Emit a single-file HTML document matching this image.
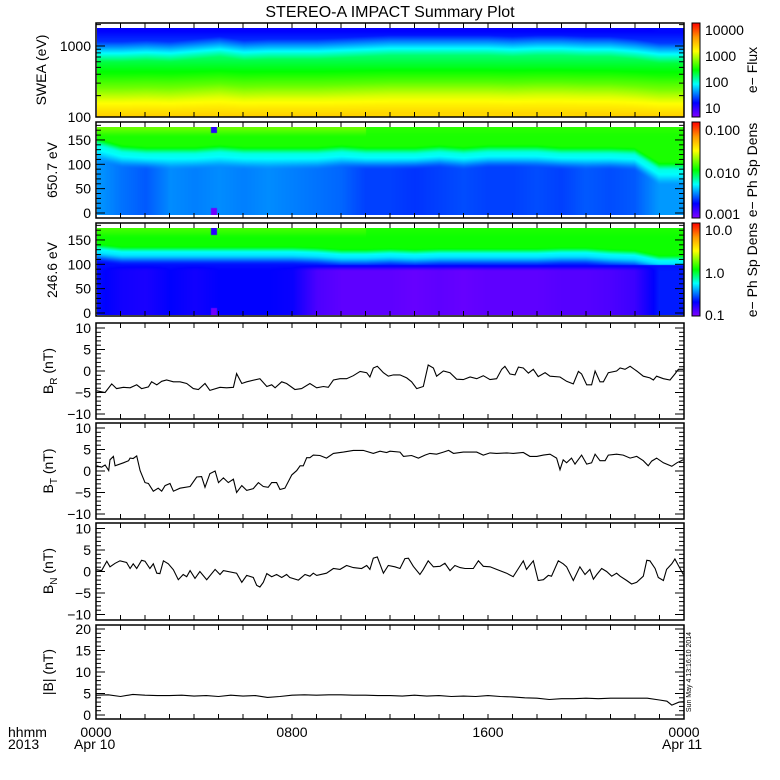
<!DOCTYPE html>
<html><head><meta charset="utf-8"><title>STEREO-A IMPACT Summary Plot</title>
<style>
html,body{margin:0;padding:0;background:#fff;}
#wrap{position:relative;width:780px;height:780px;overflow:hidden;background:#fff;}
canvas{position:absolute;}
svg{position:absolute;left:0;top:0;}
text{font-family:"Liberation Sans",sans-serif;fill:#000;}
</style></head>
<body>
<div id="wrap">
<canvas id="c1"></canvas>
<canvas id="c2"></canvas>
<canvas id="c3"></canvas>
<svg id="svg" width="780" height="780"></svg>
</div>
<script>
// ---- Spectrogram hourly parameters (hours 0..24) ----
const swShift=[0.02,0.02,0.01,0.02,0.0,-0.02,0.01,0.0,0.0,0.0,-0.01,-0.02,-0.03,-0.03,-0.03,-0.03,-0.03,-0.02,-0.03,-0.03,-0.02,-0.02,0.0,0.03,0.03];
const p2Bound=[0.14,0.22,0.24,0.24,0.24,0.22,0.24,0.24,0.24,0.24,0.22,0.24,0.24,0.24,0.22,0.24,0.22,0.22,0.22,0.24,0.24,0.24,0.25,0.42,0.42];
const p2Low=[0.27,0.24,0.22,0.26,0.25,0.26,0.25,0.26,0.25,0.24,0.23,0.2,0.2,0.19,0.2,0.21,0.2,0.2,0.21,0.2,0.22,0.21,0.22,0.27,0.27];
const p3Bound=[0.2,0.23,0.23,0.23,0.23,0.23,0.23,0.23,0.23,0.24,0.26,0.26,0.25,0.26,0.25,0.25,0.25,0.25,0.25,0.24,0.24,0.26,0.27,0.33,0.33];
const p3Low=[0.16,0.13,0.12,0.15,0.13,0.15,0.15,0.15,0.14,0.06,0.04,0.04,0.04,0.03,0.04,0.03,0.04,0.04,0.04,0.05,0.05,0.06,0.08,0.17,0.17];

// ---- Magnetic field series ----
const brT=[0.03,0.37,0.64,0.84,1.12,1.39,1.66,1.86,2.14,2.27,2.48,2.68,2.88,3.16,3.43,3.70,3.97,4.18,4.45,4.65,5.06,5.33,5.61,5.74,5.95,6.15,6.69,6.97,7.17,7.31,7.58,7.78,8.12,8.39,8.73,9.01,9.28,9.48,9.69,9.96,10.23,10.50,10.78,11.05,11.18,11.32,11.48,11.73,11.93,12.14,12.41,12.68,12.88,13.09,13.36,13.56,13.77,13.90,14.18,14.45,14.72,14.99,15.27,15.54,15.81,16.08,16.35,16.56,16.69,16.90,17.10,17.24,17.44,17.65,17.85,18.05,18.33,18.53,18.94,19.21,19.48,19.69,19.82,20.03,20.23,20.37,20.57,20.71,20.91,21.25,21.39,21.59,21.80,22.07,22.34,22.61,22.75,22.88,23.16,23.43,23.63,23.77,23.97];
const brV=[-4.6,-5.0,-3.0,-4.1,-3.8,-3.9,-3.2,-4.1,-3.7,-2.5,-3.2,-2.4,-2.1,-2.5,-2.5,-2.9,-4.1,-4.3,-2.9,-4.5,-3.8,-3.9,-3.8,-0.6,-2.9,-2.5,-1.8,-3.6,-3.2,-3.9,-2.5,-2.9,-4.3,-4.1,-2.9,-3.9,-3.6,-3.8,-2.1,-1.8,-1.8,-1.1,-0.1,-0.4,-1.4,0.7,1.1,-0.4,-1.2,-0.9,-0.9,-1.6,-2.5,-4.1,-3.6,1.4,0.7,-1.2,0,-0.4,-1.9,-2.0,-1.4,-1.8,-1.1,-2.0,-1.8,0.4,1.1,-0.7,-0.9,0.9,0.7,-0.5,0.4,-1.3,-0.4,-1.2,-1.4,-2.4,-3.0,-0.1,-0.7,-3.2,-3.2,0,-2.5,-2.5,-0.4,0,0.7,0.4,1.1,0,-1.2,-1.6,-2.1,-1.2,-1.8,-2.1,-0.7,0.4,0.4];
const btT=[0.03,0.23,0.37,0.52,0.57,0.71,0.78,1.12,1.33,1.39,1.52,1.66,1.80,2.0,2.14,2.34,2.54,2.68,2.82,3.02,3.16,3.43,3.84,4.11,4.31,4.45,4.65,4.86,5.0,5.20,5.40,5.61,5.74,5.95,6.15,6.42,6.63,6.83,7.03,7.17,7.37,7.51,7.71,7.99,8.19,8.33,8.46,8.60,8.73,8.87,9.14,9.41,9.69,10.10,10.50,10.91,11.32,11.59,11.86,12.0,12.41,12.55,12.88,13.16,13.43,13.63,13.90,14.18,14.39,14.59,14.99,15.54,15.81,16.08,16.35,16.76,17.03,17.44,17.71,17.99,18.26,18.53,18.80,18.94,19.07,19.21,19.41,19.55,19.82,20.03,20.23,20.37,20.57,20.78,20.91,21.25,21.52,21.80,22.07,22.34,22.54,22.68,22.88,23.16,23.50,23.71,23.97];
const btV=[1.2,0.9,1.4,0.1,2.6,3.4,1.2,1.9,2.4,3.0,2.9,3.5,0.1,-2.7,-2.9,-4.7,-4.0,-4.7,-3.4,-2.9,-4.7,-4.0,-3.6,-1.4,-1.3,-3.8,-0.6,0,-2.7,-1.6,-2.7,-1.9,-5.0,-3.4,-4.5,-4.1,-2.7,-3.6,-3.8,-2.7,-2.7,-4.3,-4.0,-0.9,0.1,1.2,1.2,3.1,3.1,3.7,3.6,3.0,4.1,4.4,4.8,4.8,4.1,4.6,4.3,4.6,4.4,3.4,3.6,3.0,3.7,4.1,3.9,4.4,4.8,4.1,4.4,4.4,3.7,4.2,4.1,4.2,4.1,4.3,3.4,3.4,3.7,3.9,3.0,0.3,2.6,1.9,3.0,1.6,3.7,1.6,1.9,3.9,2.4,2.4,3.7,3.9,3.7,3.0,3.4,2.4,1.2,2.3,3.0,1.9,1.1,1.9,2.6];
const bnT=[0.03,0.23,0.44,0.57,0.78,0.98,1.25,1.39,1.52,1.66,1.86,2.0,2.20,2.34,2.48,2.61,2.75,2.95,3.16,3.36,3.56,3.70,3.84,4.04,4.24,4.52,4.86,5.06,5.20,5.74,5.95,6.15,6.42,6.56,6.69,6.83,6.97,7.17,7.37,7.58,7.78,7.91,8.26,8.53,8.73,8.87,9.01,9.41,9.69,9.96,10.23,10.50,10.84,11.05,11.18,11.32,11.48,11.73,11.93,12.20,12.41,12.61,12.75,12.95,13.22,13.36,13.56,13.77,14.04,14.24,14.45,14.65,14.86,15.06,15.40,15.61,15.81,16.08,16.35,16.76,17.03,17.24,17.44,17.57,17.85,18.05,18.26,18.46,18.59,18.87,19.07,19.21,19.48,19.75,19.96,20.16,20.30,20.44,20.64,20.84,21.05,21.25,21.39,21.66,21.86,22.07,22.34,22.48,22.61,22.82,22.95,23.16,23.29,23.50,23.63,23.77,23.97];
const bnV=[0.4,0.2,2.4,1.1,1.9,2.5,2.1,0.7,1.8,0.7,2.6,2.4,0.7,1.8,-0.4,-0.5,2.5,1.8,0.4,-1.9,-0.7,-1.2,0.2,-1.6,0,-1.9,0.5,-0.7,0.2,-0.4,-2.5,-0.9,-1.4,-3.2,-3.6,-2.5,-0.5,-1.2,-0.7,-1.4,-0.7,-1.4,-2.0,-0.7,-1.1,-0.4,-0.9,-0.4,0.7,0.5,1.4,0.9,0.7,1.4,0.5,3.1,3.4,-0.4,1.4,1.1,0.7,3.0,3.1,1.2,-0.7,0.5,2.5,1.1,1.2,1.9,0.2,1.4,0.9,0.7,0.7,2.5,1.2,1.1,0.5,-0.4,-1.2,0.7,2.5,0.5,2.5,-2.1,-1.9,-0.9,-1.1,2.5,1.8,1.1,-2.1,1.1,-0.7,0.5,-1.8,-0.7,0.7,0,-1.1,-0.4,-1.1,-2.1,-2.9,-2.5,-1.1,2.6,2.5,0.7,-1.4,-2.1,0.5,1.8,2.9,1.4,-0.7];
const bmT=[0,0.5,1,1.5,2,2.5,3,3.5,4,4.5,5,5.5,6,6.5,7,7.5,8,8.5,9,9.5,10,10.5,11,11.5,12,12.5,13,13.5,14,14.5,15,15.5,16,16.5,17,17.5,18,18.5,19,19.5,20,20.5,21,21.5,22,22.5,23,23.3,23.5,23.8,24];
const bmV=[4.6,4.7,4.3,4.8,4.6,4.5,4.5,4.6,4.4,4.5,4.3,4.6,4.4,4.5,4.1,4.3,4.6,4.7,4.6,4.7,4.7,4.6,4.6,4.5,4.5,4.4,4.6,4.4,4.5,4.3,4.4,4.3,4.5,4.3,4.2,4.0,3.9,3.6,3.8,3.8,3.9,3.8,3.9,3.9,3.9,3.9,3.5,3.2,2.3,3.0,3.1];

// ---- Axis labels ----
const timeLabels=["0000","0800","1600","0000"];
const timeHours=[0,8,16,24];
const bTicks=[10,5,0,-5,-10];
const bmTicks=[20,15,10,5,0];

const X0=96,X1=684;
const xs=t=>X0+t/24*(X1-X0);
const NS="http://www.w3.org/2000/svg";
const svg=document.getElementById('svg');
function el(tag,attrs,parent){const e=document.createElementNS(NS,tag);for(const k in attrs)e.setAttribute(k,attrs[k]);(parent||svg).appendChild(e);return e;}
function txt(s,attrs,parent){const e=el('text',attrs,parent);e.textContent=s;return e;}

const stops=[[0,[128,0,255]],[0.15,[0,0,255]],[0.35,[0,255,255]],[0.5,[0,255,0]],[0.7,[255,255,0]],[0.85,[255,150,0]],[1,[255,0,0]]];
function cmap(v){v=Math.max(0,Math.min(1,v));for(let i=1;i<stops.length;i++){if(v<=stops[i][0]){const a=stops[i-1],b=stops[i];const f=(v-a[0])/(b[0]-a[0]);return [0,1,2].map(k=>Math.round(a[1][k]+(b[1][k]-a[1][k])*f));}}return stops[stops.length-1][1];}
function hinterp(arr,t){const i=Math.max(0,Math.min(23,Math.floor(t)));const f=t-i;return arr[i]*(1-f)+arr[i+1]*f;}
function pw(fx,fy,x){if(x<=fx[0])return fy[0];for(let i=1;i<fx.length;i++){if(x<=fx[i]){const f=(x-fx[i-1])/(fx[i]-fx[i-1]);return fy[i-1]+(fy[i]-fy[i-1])*f;}}return fy[fy.length-1];}
function ss(a,b,x){const t=Math.max(0,Math.min(1,(x-a)/(b-a)));return t*t*(3-2*t);}

function drawSpec(id,x,y,w,h,fn){const c=document.getElementById(id);c.width=w;c.height=h;c.style.left=x+'px';c.style.top=y+'px';const ctx=c.getContext('2d');const im=ctx.createImageData(w,h);for(let i=0;i<w;i++){const t=i/(w-1)*24;for(let j=0;j<h;j++){const f=j/(h-1);const col=cmap(fn(f,t));const p=(j*w+i)*4;im.data[p]=col[0];im.data[p+1]=col[1];im.data[p+2]=col[2];im.data[p+3]=255;}}ctx.putImageData(im,0,0);}

const SPOT=4.78;
const p1F=[0,0.12,0.26,0.35,0.49,0.65,0.8,0.9,1];
const p1C=[0.14,0.18,0.35,0.45,0.5,0.58,0.68,0.73,0.77];
drawSpec('c1',97,28,587,89,(f,t)=>{const s=hinterp(swShift,t);return pw(p1F,p1C,f-s*1.5)+s*0.5;});
drawSpec('c2',97,127,587,88,(f,t)=>{const b=hinterp(p2Bound,t),lo=hinterp(p2Low,t);let top=0.52+0.06*(1-ss(0,0.12,f))*(t<11?1:0.2);let v;
 if(f<b-0.03)v=top;else if(f<b+0.08)v=top+(0.36-top)*ss(b-0.03,b+0.08,f);else v=0.36+(lo-0.36)*ss(b+0.08,b+0.25,f);
 const d=Math.abs(t-SPOT);if(d<0.12){if(f<0.06)v=0.1;if(f>0.92)v=0.02;}return v;});
drawSpec('c3',97,228,587,87,(f,t)=>{const b=hinterp(p3Bound,t),lo=hinterp(p3Low,t);let v;
 if(f<b-0.03)v=0.51+0.04*(1-ss(0,0.12,f))*(t<11?1:0.3);else if(f<b+0.06)v=0.51+(0.34-0.51)*ss(b-0.03,b+0.06,f);
 else if(f<0.42)v=0.34+(0.16-0.34)*ss(b+0.06,b+0.2,f);else v=0.16+(lo-0.16)*ss(0.42,0.5,f);
 const d=Math.abs(t-SPOT);if(d<0.12){if(f<0.07)v=0.1;if(f>0.92)v=0.02;}return v;});

const panels=[{t:23,b:117},{t:122,b:218},{t:223,b:316},{t:323,b:419},{t:423,b:519},{t:523,b:620},{t:625,b:719}];
const pnames=['swea-panel','pad-650-panel','pad-246-panel','br-panel','bt-panel','bn-panel','bmag-panel'];
panels.forEach((p,i)=>{
 const g=el('g',{});
 
 
 el('rect',{x:X0,y:p.t,width:X1-X0,height:p.b-p.t,fill:'none',stroke:'#000','stroke-width':1.5},g);
 for(let h=0;h<=24;h++){const x=xs(h);el('line',{x1:x,y1:p.t,x2:x,y2:p.t+5,stroke:'#000'},g);el('line',{x1:x,y1:p.b,x2:x,y2:p.b-5,stroke:'#000'},g);}
});
function yTick(p,y,major,lab,g){const L=major?9:5;el('line',{x1:X0,y1:y,x2:X0+L,y2:y,stroke:'#000'},g);el('line',{x1:X1,y1:y,x2:X1-L,y2:y,stroke:'#000'},g);if(lab!==null)txt(lab,{x:91,y:y+5,'font-size':14,'text-anchor':'end'},g);}

(function(){const g=el('g',{});
 const ye=e=>117-(Math.log10(e)-2)*71;
 [100,1000].forEach(e=>yTick(panels[0],ye(e),true,String(e),g));
 [200,300,400,500,600,700,800,900,2000].forEach(e=>{if(ye(e)>24)yTick(panels[0],ye(e),false,null,g);});})();
[[1,213],[2,313]].forEach(([pi,y0])=>{const g=el('g',{});
 const ya=a=>y0-a*0.487;
 for(let a=0;a<=180;a+=10){if(ya(a)<panels[pi].t+1)continue;const major=a%50===0;yTick(panels[pi],ya(a),major,major?String(a):null,g);}
});
const yB=(p,v)=>(p.t+p.b)/2-v*4.3;
[3,4,5].forEach(pi=>{const p=panels[pi];const g=el('g',{});
 for(let v=-10;v<=10;v++){const major=v%5===0;yTick(p,yB(p,v),major,null,g);}
 bTicks.forEach(v=>txt(v<0?'\u2212'+(-v):String(v),{x:91,y:yB(p,v)+5,'font-size':14,'text-anchor':'end'},g));
});
const yM=v=>715-v*4.3;
(function(){const g=el('g',{});
 for(let v=0;v<=20;v++)yTick(panels[6],yM(v),v%5===0,null,g);
 bmTicks.forEach(v=>txt(String(v),{x:91,y:yM(v)+5,'font-size':14,'text-anchor':'end'},g));})();

function line(T,V,yf,name){const n=Math.min(T.length,V.length);let d='';for(let i=0;i<n;i++)d+=(i?'L':'M')+xs(T[i]).toFixed(1)+' '+yf(V[i]).toFixed(1);
 const pth=el('path',{d:d,fill:'none',stroke:'#000','stroke-width':1.1});
 
 }
line(brT,brV,v=>yB(panels[3],v),'br-line');
line(btT,btV,v=>yB(panels[4],v),'bt-line');
line(bnT,bnV,v=>yB(panels[5],v),'bn-line');
line(bmT,bmV,yM,'bmag-line');

function ytitle(x,y,parts,name){const t=el('text',{x:x,y:y,'font-size':14,'text-anchor':'middle',transform:`rotate(-90 ${x} ${y})`});
 
 
 parts.forEach(p=>{const s=el('tspan',p.sub?{'font-size':10,dy:4}:(p.after?{dy:-4}:{}),t);s.textContent=p.s;});return t;}
ytitle(46,70,[{s:'SWEA  (eV)'}],'swea-y-title');
ytitle(57,170,[{s:'650.7  eV'}],'pad650-y-title');
ytitle(57,270,[{s:'246.6  eV'}],'pad246-y-title');
ytitle(53,371,[{s:'B'},{s:'R',sub:true},{s:'  (nT)',after:true}],'br-y-title');
ytitle(53,471,[{s:'B'},{s:'T',sub:true},{s:'  (nT)',after:true}],'bt-y-title');
ytitle(53,571,[{s:'B'},{s:'N',sub:true},{s:'  (nT)',after:true}],'bn-y-title');
ytitle(53,672,[{s:'|B|  (nT)'}],'bmag-y-title');

const defs=el('defs',{});const lg=el('linearGradient',{id:'cb',x1:0,y1:1,x2:0,y2:0},defs);
stops.forEach(s=>el('stop',{offset:s[0],'stop-color':`rgb(${s[1].join(',')})`},lg));
const cbars=[{p:panels[0],labs:[['10000',30],['1000',56],['100',82],['10',108]],title:'e\u2212  Flux',ty:70,name:'flux-colorbar'},
 {p:panels[1],labs:[['0.100',130],['0.010',173],['0.001',214]],title:'e\u2212  Ph  Sp  Dens',ty:170,name:'psd-650-colorbar'},
 {p:panels[2],labs:[['10.0',230],['1.0',273],['0.1',315]],title:'e\u2212  Ph  Sp  Dens',ty:270,name:'psd-246-colorbar'}];
cbars.forEach(cb=>{const g=el('g',{});
 el('rect',{x:692,y:cb.p.t,width:8,height:cb.p.b-cb.p.t,fill:'url(#cb)',stroke:'#000','stroke-width':1},g);
 cb.labs.forEach(l=>txt(l[0],{x:705,y:l[1]+5,'font-size':14},g));
 const x=757;txt(cb.title,{x:x,y:cb.ty,'font-size':14,'text-anchor':'middle',transform:`rotate(-90 ${x} ${cb.ty})`},g);});

const ttl=txt('STEREO-A IMPACT Summary Plot',{x:390,y:17,'font-size':16,'text-anchor':'middle'});


const tg=el('g',{});
timeHours.forEach((h,i)=>txt(timeLabels[i],{x:xs(h),y:737,'font-size':14,'text-anchor':'middle'},tg));
txt('Apr 10',{x:74,y:749,'font-size':14},tg);
txt('Apr 11',{x:662,y:749,'font-size':14},tg);
txt('hhmm',{x:8,y:737,'font-size':14},tg);
txt('2013',{x:8,y:749,'font-size':14},tg);
const ts=txt('Sun May  4 13:16:10 2014',{x:691,y:672,'font-size':7,'text-anchor':'middle',transform:'rotate(-90 691 672)'});


</script>
</body></html>
